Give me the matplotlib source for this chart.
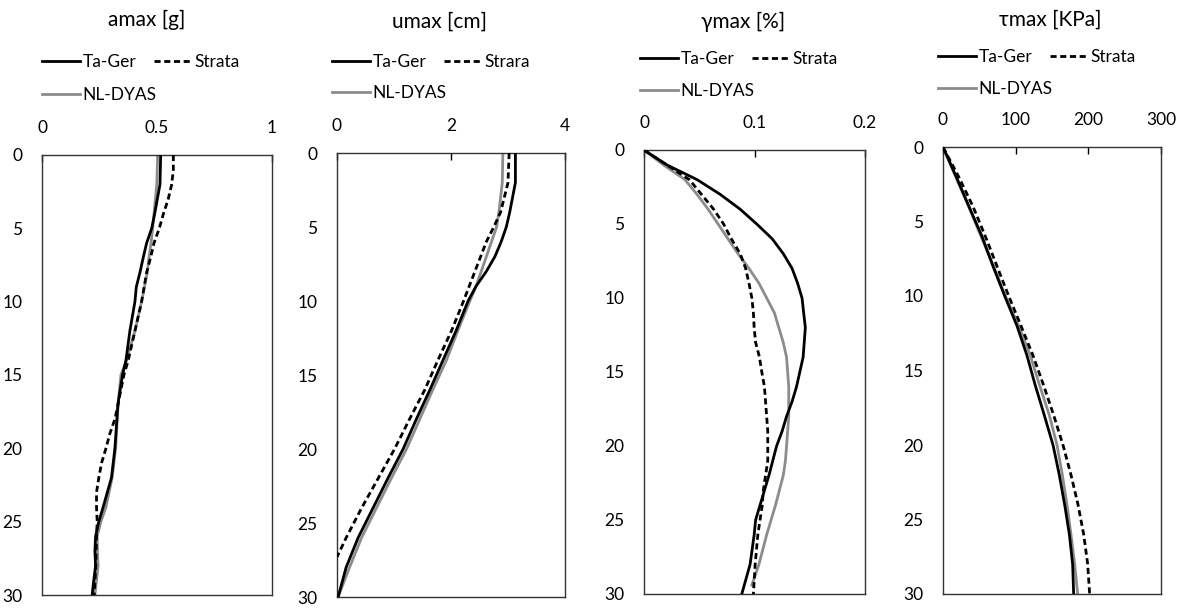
import matplotlib
matplotlib.use("Agg")
import matplotlib.pyplot as plt

plt.rcParams['font.family'] = ['Lato', 'DejaVu Sans']

# ---- peak acceleration amax [g] ----
acc_depth_tager = [0, 2, 4, 5, 6, 7, 8, 9, 10, 12, 14, 15, 17, 20, 22, 24, 25, 26, 27, 28, 29, 30]
acc_tager = [0.516, 0.513, 0.49, 0.477, 0.455, 0.44, 0.426, 0.41, 0.404, 0.382, 0.365, 0.35,
             0.33, 0.317, 0.302, 0.266, 0.247, 0.233, 0.23, 0.233, 0.225, 0.218]
acc_depth_nldyas = [0, 2, 4, 5, 6, 7, 8, 10, 12, 14, 15, 17, 20, 22, 24, 25, 26, 27, 28, 29, 30]
acc_nldyas = [0.503, 0.499, 0.487, 0.481, 0.474, 0.465, 0.458, 0.433, 0.404, 0.368, 0.343,
              0.331, 0.32, 0.305, 0.278, 0.256, 0.24, 0.241, 0.244, 0.237, 0.23]
acc_depth_strata = [0, 1, 2, 3, 4, 5, 6, 7, 8, 10, 12, 14, 15, 16, 17, 18, 19, 20, 21, 22, 23,
                    24, 25, 26, 28, 30]
acc_strata = [0.571, 0.571, 0.564, 0.549, 0.528, 0.51, 0.487, 0.472, 0.455, 0.433, 0.404, 0.375,
              0.356, 0.343, 0.331, 0.317, 0.295, 0.278, 0.259, 0.247, 0.237, 0.237, 0.24,
              0.237, 0.234, 0.227]

# ---- peak displacement umax [cm] ----
disp_depth_tager = [0, 2, 3, 4, 5, 6, 7, 8, 9, 10, 12, 14, 16, 18, 20, 22, 24, 26, 28, 30]
disp_tager = [3.13, 3.13, 3.08, 3.03, 2.97, 2.88, 2.77, 2.62, 2.44, 2.30, 2.09, 1.86, 1.63,
              1.39, 1.16, 0.89, 0.63, 0.37, 0.16, 0.02]
disp_depth_nldyas = [0, 2, 4, 5, 6, 8, 9, 10, 12, 14, 16, 18, 20, 22, 24, 26, 28, 30]
disp_nldyas = [2.91, 2.90, 2.84, 2.80, 2.71, 2.53, 2.44, 2.33, 2.12, 1.92, 1.68, 1.45, 1.22,
               0.95, 0.69, 0.43, 0.22, 0.02]
disp_depth_strata = [0, 2, 4, 5, 6, 8, 10, 12, 14, 16, 18, 20, 22, 24, 26, 27.3]
disp_strata = [3.02, 3.0, 2.87, 2.75, 2.62, 2.42, 2.22, 2.01, 1.77, 1.54, 1.27, 1.01, 0.72,
               0.43, 0.16, 0.0]

# ---- peak shear strain gmax [%] ----
strain_depth_tager = [0, 1, 2, 3, 4, 5, 6, 7, 8, 9, 10, 12, 13, 14, 15, 16, 17, 18, 19, 20,
                      22, 23, 24, 25, 26, 28, 30]
strain_tager = [0, 0.0205, 0.048, 0.069, 0.087, 0.102, 0.116, 0.126, 0.134, 0.139, 0.143,
                0.146, 0.145, 0.144, 0.141, 0.138, 0.134, 0.129, 0.125, 0.120, 0.113, 0.109,
                0.105, 0.101, 0.0997, 0.096, 0.0885]
strain_depth_nldyas = [0, 1, 2, 3, 4, 5, 6, 7, 8, 9, 10, 11, 12, 13, 14, 15, 16, 18, 20, 21,
                       22, 24, 26, 28, 29.4]
strain_nldyas = [0, 0.0175, 0.037, 0.048, 0.058, 0.067, 0.076, 0.085, 0.095, 0.104, 0.111,
                 0.118, 0.122, 0.126, 0.129, 0.130, 0.131, 0.131, 0.129, 0.128, 0.126, 0.119,
                 0.111, 0.104, 0.0976]
strain_depth_strata = [0, 2, 3, 4, 5, 6, 7, 8, 9, 10, 11, 12, 13, 14, 15, 16, 17, 18, 19, 20,
                       21, 22, 23, 24, 25, 26, 28, 30]
strain_strata = [0, 0.041, 0.052, 0.063, 0.072, 0.079, 0.087, 0.092, 0.095, 0.0976, 0.099,
                 0.0997, 0.101, 0.1045, 0.1066, 0.109, 0.110, 0.111, 0.112, 0.112, 0.112, 0.110,
                 0.108, 0.107, 0.105, 0.103, 0.1006, 0.099]

# ---- peak shear stress tmax [KPa] ----
stress_depth = [0, 2, 4, 6, 8, 10, 12, 14, 16, 18, 20, 22, 24, 26, 28, 30]
stress_tager = [0, 18.3, 35.8, 53.7, 68.8, 84.9, 101.8, 115.6, 127.0, 139.4, 151.4, 160.0,
                167.4, 173.9, 178.4, 179.8]
stress_nldyas = [0, 17.4, 35.3, 52.3, 69.7, 85.8, 104.1, 120.2, 133.0, 146.3, 156.9, 164.2,
                 170.6, 176.1, 181.2, 185.3]
stress_strata = [0, 21.6, 41.3, 58.3, 74.3, 90.4, 107.3, 123.9, 138.5, 152.3, 165.1, 176.1,
                 185.8, 193.6, 199.1, 201.8]

titles = ["amax [g]", "umax [cm]", "γmax [%]", "τmax [KPa]"]
strata_labels = ["Strata", "Strara", "Strata", "Strata"]
x_limits = [(0, 1), (0, 4), (0, 0.2), (0, 300)]
x_ticks = [[0, 0.5, 1], [0, 2, 4], [0, 0.1, 0.2], [0, 100, 200, 300]]
x_ticklabels = [["0", "0.5", "1"], ["0", "2", "4"], ["0", "0.1", "0.2"],
                ["0", "100", "200", "300"]]
depth_ticks = [0, 5, 10, 15, 20, 25, 30]

panels = [
    ((acc_tager, acc_depth_tager), (acc_strata, acc_depth_strata), (acc_nldyas, acc_depth_nldyas)),
    ((disp_tager, disp_depth_tager), (disp_strata, disp_depth_strata), (disp_nldyas, disp_depth_nldyas)),
    ((strain_tager, strain_depth_tager), (strain_strata, strain_depth_strata), (strain_nldyas, strain_depth_nldyas)),
    ((stress_tager, stress_depth), (stress_strata, stress_depth), (stress_nldyas, stress_depth)),
]

W, H = 1184, 608
fig = plt.figure(figsize=(W / 100, H / 100), dpi=100)

# axes boxes in pixels: left, right, top, bottom
boxes = [(42, 272, 155, 595), (337, 565, 153, 597), (644, 865, 150, 594), (943, 1161, 147, 594)]
title_pos = [(147, 20), (440, 22), (743, 22), (1050, 20)]
# legend anchor: left x, first row y, second row y (pixels from top)
legend_pos = [(42, 62, 95), (332, 62, 93), (640, 59, 91), (938, 57, 89)]

gray = "#8c8c8c"
fs_tick = 12.5
fs_leg = 12.5
fs_title = 15
for i, (box, data) in enumerate(zip(boxes, panels)):
    l, r, t, b = box
    ax = fig.add_axes([l / W, 1 - b / H, (r - l) / W, (b - t) / H])
    (tx, ty), (sx, sy), (nx, ny) = data
    h1, = ax.plot(tx, ty, color="black", lw=2.0, label="Ta-Ger", zorder=3)
    h3, = ax.plot(nx, ny, color=gray, lw=2.0, label="NL-DYAS", zorder=2)
    h2, = ax.plot(sx, sy, color="black", lw=2.0, ls=(0, (2.2, 1.3)), label=strata_labels[i], zorder=3)
    ax.set_xlim(*x_limits[i])
    ax.set_ylim(30, 0)
    ax.xaxis.tick_top()
    ax.set_xticks(x_ticks[i])
    ax.set_xticklabels(x_ticklabels[i])
    ax.set_yticks(depth_ticks)
    ax.tick_params(axis="x", direction="in", length=5, width=1, pad=14, labelsize=fs_tick,
                   colors="black")
    ax.tick_params(axis="y", length=0, pad=14, labelsize=fs_tick)
    for s in ax.spines.values():
        s.set_linewidth(1.0)
        s.set_color("#333333")

    lx, ry1, ry2 = legend_pos[i]
    common = dict(loc="center left", frameon=False, fontsize=fs_leg, handlelength=2.2,
                  handletextpad=0.15, borderaxespad=0, borderpad=0,
                  bbox_transform=fig.transFigure)
    leg1 = ax.legend(handles=[h1, h2], ncol=2, columnspacing=1.0,
                     bbox_to_anchor=(lx / W, 1 - ry1 / H), **common)
    ax.add_artist(leg1)
    ax.legend(handles=[h3], bbox_to_anchor=(lx / W, 1 - ry2 / H), **common)

    px, py = title_pos[i]
    fig.text(px / W, 1 - py / H, titles[i], ha="center", va="center", fontsize=fs_title)

fig.savefig("out.png", dpi=100, facecolor="white")
